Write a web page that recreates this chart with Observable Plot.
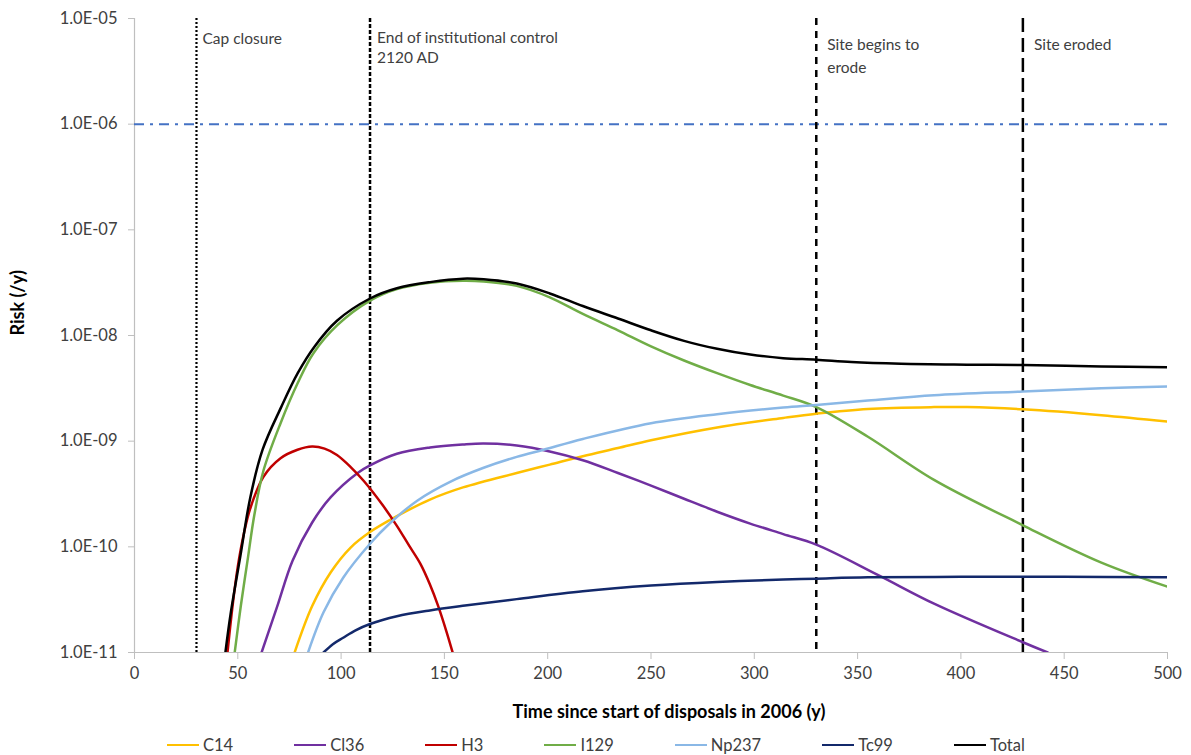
<!DOCTYPE html>
<html>
<head>
<meta charset="utf-8">
<script src="https://cdn.jsdelivr.net/npm/d3@7"></script>
<script src="https://cdn.jsdelivr.net/npm/@observablehq/plot@0.6"></script>
<style>
  html, body { margin: 0; padding: 0; background: #fff; }
  #wrap { position: relative; width: 1191px; height: 755px; font-family: Lato, "Open Sans", sans-serif; }
  #legend { position: absolute; left: 167px; top: 734px; display: flex; gap: 61px; align-items: center;
            font-size: 16.5px; color: #404040; line-height: 22px; }
  .item { display: flex; align-items: center; }
  .swatch { width: 32px; height: 0; border-top: 2.5px solid; margin-right: 4px; }
</style>
</head>
<body>
<div id="wrap"></div>
<script>
// Risk (/y) by radionuclide versus time since start of disposals (y)
const c14 = [[77.5,1.0e-11],[86,2.75e-11],[95,5.75e-11],[104.5,9.8e-11],[114,1.38e-10],[127,1.95e-10],[143,2.8e-10],[159,3.65e-10],[185,5.0e-10],[201,6.0e-10],[217,7.2e-10],[234,8.6e-10],[250,1.02e-9],[282,1.35e-9],[314,1.66e-9],[330,1.82e-9],[355,2.02e-9],[387,2.1e-9],[403,2.1e-9],[430,2.0e-9],[468,1.76e-9],[500,1.53e-9]];
const cl36 = [[61.5,1.0e-11],[69,2.7e-11],[76.5,7.4e-11],[86,1.7e-10],[95,2.95e-10],[108,5.0e-10],[114,5.9e-10],[127,7.6e-10],[143,8.7e-10],[159,9.3e-10],[169,9.5e-10],[185,9.1e-10],[201,8.0e-10],[217,6.6e-10],[234,5.0e-10],[250,3.8e-10],[266,2.85e-10],[282,2.15e-10],[298,1.66e-10],[314,1.32e-10],[330,1.05e-10],[360,5.4e-11],[387,2.9e-11],[430,1.25e-11],[442,1.0e-11]];
const h3 = [[45,1.0e-11],[47.5,2.8e-11],[50,6.5e-11],[53,1.35e-10],[56,2.3e-10],[62.4,4.6e-10],[70.7,6.9e-10],[78.9,8.3e-10],[86,8.9e-10],[92,8.5e-10],[98,7.4e-10],[105,5.6e-10],[111,4.2e-10],[120,2.5e-10],[127,1.58e-10],[133,1.02e-10],[138.4,6.9e-11],[143,4.4e-11],[147,2.75e-11],[151,1.58e-11],[154,1.0e-11]];
const i129 = [[48.5,1.0e-11],[51.5,2.8e-11],[54.7,7.4e-11],[58,2.0e-10],[62.4,5.25e-10],[70.7,1.48e-9],[79,3.55e-9],[86.6,6.8e-9],[98.3,1.26e-8],[114,2.14e-8],[127,2.75e-8],[143,3.16e-8],[159,3.3e-8],[169,3.25e-8],[185,2.95e-8],[201,2.3e-8],[217,1.6e-8],[234,1.12e-8],[250,7.9e-9],[266,5.8e-9],[282,4.4e-9],[298,3.4e-9],[314,2.7e-9],[330,2.1e-9],[355,1.1e-9],[387,4.3e-10],[430,1.6e-10],[468,7.1e-11],[500,4.2e-11]];
const np237 = [[84,1.0e-11],[91.5,2.4e-11],[101,5.1e-11],[114,1.07e-10],[124,1.7e-10],[137,2.75e-10],[153,4.15e-10],[169,5.6e-10],[185,7.1e-10],[198,8.3e-10],[217,1.05e-9],[250,1.48e-9],[282,1.8e-9],[314,2.08e-9],[330,2.2e-9],[355,2.42e-9],[387,2.72e-9],[430,2.95e-9],[468,3.16e-9],[500,3.3e-9]];
const tc99 = [[91.5,1.0e-11],[96,1.2e-11],[101,1.38e-11],[107,1.62e-11],[114,1.86e-11],[127,2.2e-11],[143,2.5e-11],[160,2.78e-11],[185,3.2e-11],[217,3.8e-11],[250,4.3e-11],[282,4.65e-11],[314,4.9e-11],[330,5.0e-11],[355,5.15e-11],[400,5.2e-11],[450,5.2e-11],[500,5.15e-11]];
const total = [[44,1.0e-11],[46.5,2.3e-11],[51.3,8.3e-11],[56,2.9e-10],[62,8.3e-10],[71,2.1e-9],[79,4.4e-9],[87,7.8e-9],[98,1.38e-8],[114,2.24e-8],[127,2.8e-8],[143,3.2e-8],[159,3.45e-8],[169,3.4e-8],[185,3.1e-8],[201,2.5e-8],[217,1.9e-8],[234,1.45e-8],[250,1.12e-8],[266,8.9e-9],[282,7.5e-9],[298,6.6e-9],[314,6.1e-9],[330,5.9e-9],[347,5.6e-9],[371,5.4e-9],[403,5.3e-9],[430,5.25e-9],[468,5.1e-9],[500,5.0e-9]];

const seriesNames = ["C14", "Cl36", "H3", "I129", "Np237", "Tc99", "Total"];
const seriesColors = ["#FFC000", "#7030A0", "#C00000", "#70AD47", "#8AB8E6", "#13296B", "#000000"];
const seriesData = [c14, cl36, h3, i129, np237, tc99, total];

// Regulatory target and key site events (years since 2006)
const riskTarget = [1e-6];
const eventTimes = [30, 114, 330, 430];
const eventLabels = ["Cap closure", "End of institutional control\n2120 AD", "Site begins to\nerode", "Site eroded"];

const xTicks = [0, 50, 100, 150, 200, 250, 300, 350, 400, 450, 500];
const yTicks = [1e-11, 1e-10, 1e-9, 1e-8, 1e-7, 1e-6, 1e-5];

const xTitle = "Time since start of disposals in 2006 (y)";
const yTitle = "Risk (/y)";

const sci = d => {
  const e = Math.round(Math.log10(d));
  const m = d / Math.pow(10, e);
  return m.toFixed(1) + "E" + (e < 0 ? "-" : "+") + String(Math.abs(e)).padStart(2, "0");
};

const rows = seriesData.flatMap((s, i) => s.map(([t, r]) => ({t, r, name: seriesNames[i]})));
const events = eventTimes.map((t, i) => ({t, label: eventLabels[i]}));

const axisGray = "#BFBFBF";
const textGray = "#404040";

const chart = Plot.plot({
  width: 1191,
  height: 732,
  marginLeft: 134,
  marginRight: 24,
  marginTop: 18,
  marginBottom: 80,
  style: {fontFamily: "Lato, 'Open Sans', sans-serif", fontSize: "16.5px", background: "#fff", overflow: "visible"},
  x: {domain: [0, 500]},
  y: {type: "log", domain: [1e-11, 1e-5]},
  color: {domain: seriesNames, range: seriesColors},
  marks: [
    Plot.ruleY([1e-11], {stroke: axisGray, strokeWidth: 1.2}),
    Plot.ruleX([0], {stroke: axisGray, strokeWidth: 1.2}),
    Plot.axisX({ticks: xTicks, tickSize: 7, tickPadding: 8, stroke: axisGray, fill: textGray, fontSize: 16.5, label: null}),
    Plot.axisY({ticks: yTicks, tickFormat: sci, tickSize: 6, tickPadding: 11, stroke: axisGray, fill: textGray, fontSize: 16.5, label: null}),
    // risk target
    Plot.ruleY(riskTarget, {stroke: "#4472C4", strokeWidth: 2, strokeDasharray: "10,6,3,6"}),
    // event markers
    Plot.ruleX([eventTimes[0]], {stroke: "#000", strokeWidth: 2.2, strokeDasharray: "2,2"}),
    Plot.ruleX([eventTimes[1]], {stroke: "#000", strokeWidth: 2.5, strokeDasharray: "4,2"}),
    Plot.ruleX([eventTimes[2]], {stroke: "#000", strokeWidth: 2.5, strokeDasharray: "7,6"}),
    Plot.ruleX([eventTimes[3]], {stroke: "#000", strokeWidth: 2.5, strokeDasharray: "14,6"}),
    // nuclide curves
    Plot.line(rows, {x: "t", y: "r", z: "name", stroke: "name", strokeWidth: 2.5, curve: "catmull-rom", clip: true}),
    // event labels
    Plot.text([events[0]], {x: "t", text: "label", frameAnchor: "top", dy: 14, dx: 6, textAnchor: "start", lineAnchor: "top", fill: textGray, fontSize: 15.5}),
    Plot.text([events[1]], {x: "t", text: "label", frameAnchor: "top", dy: 10, dx: 7, textAnchor: "start", lineAnchor: "top", lineHeight: 1.3, fill: textGray, fontSize: 15.5}),
    Plot.text([events[2]], {x: "t", text: "label", frameAnchor: "top", dy: 16, dx: 11, textAnchor: "start", lineAnchor: "top", lineHeight: 1.45, fill: textGray, fontSize: 15.5}),
    Plot.text([events[3]], {x: "t", text: "label", frameAnchor: "top", dy: 20, dx: 11, textAnchor: "start", lineAnchor: "top", fill: textGray, fontSize: 15.5}),
    // axis titles
    Plot.text([xTitle], {frameAnchor: "bottom", dy: 65, dx: 18, fontWeight: "bold", fontSize: 18, fill: "#000"}),
    Plot.text([yTitle], {frameAnchor: "left", dx: -116, rotate: -90, fontWeight: "bold", fontSize: 18, fill: "#000"})
  ]
});

const wrap = document.getElementById("wrap");
wrap.appendChild(chart);

const legend = document.createElement("div");
legend.id = "legend";
seriesNames.forEach((name, i) => {
  const item = document.createElement("div");
  item.className = "item";
  const sw = document.createElement("span");
  sw.className = "swatch";
  sw.style.borderTopColor = seriesColors[i];
  const label = document.createElement("span");
  label.textContent = name;
  item.appendChild(sw);
  item.appendChild(label);
  legend.appendChild(item);
});
wrap.appendChild(legend);
</script>
</body>
</html>
